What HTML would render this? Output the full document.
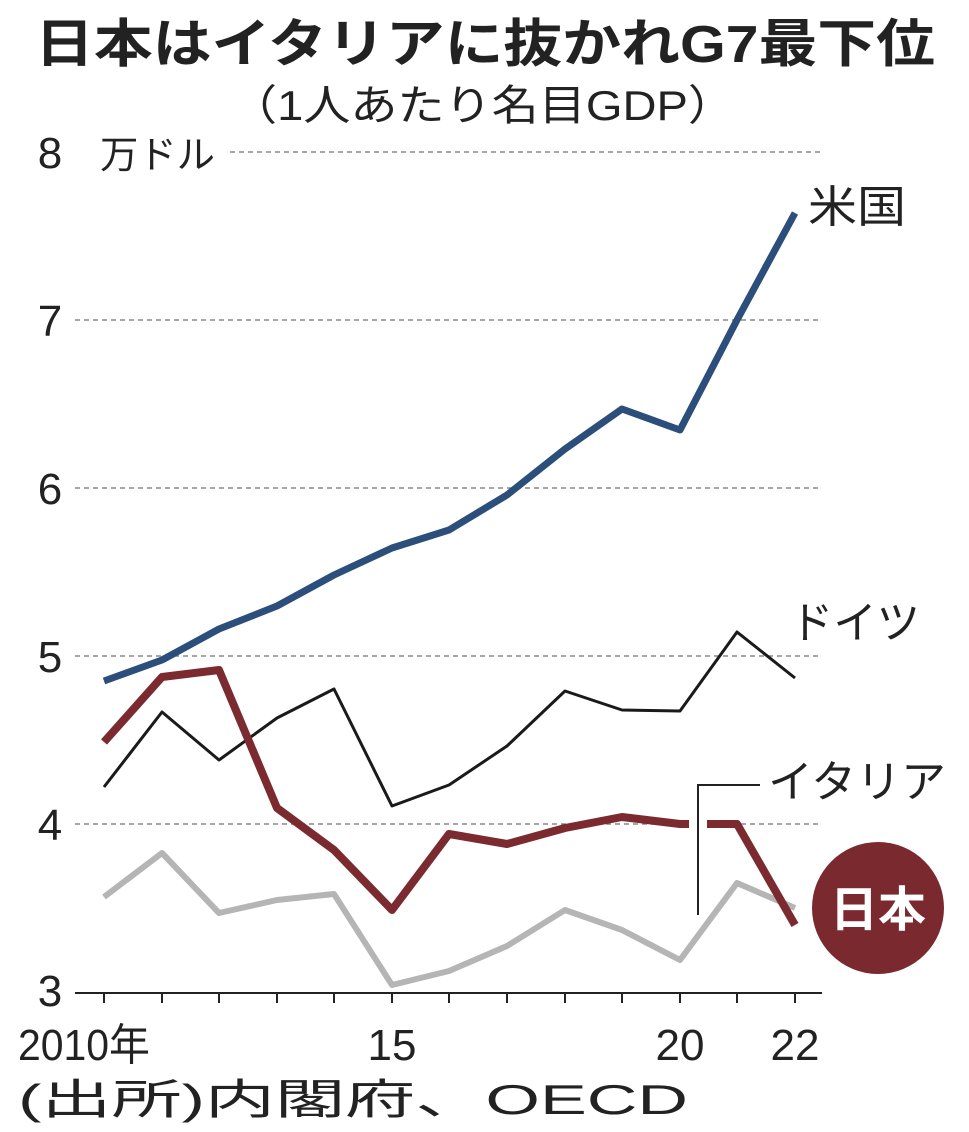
<!DOCTYPE html>
<html><head><meta charset="utf-8"><style>
body{margin:0;background:#fff;}
svg{display:block;}
text{font-family:"Liberation Sans","Noto Sans CJK JP",sans-serif;fill:#222;}
</style></head><body>
<svg width="969" height="1132" viewBox="0 0 969 1132">
<text x="35" y="62" font-size="52" font-weight="bold" textLength="900" lengthAdjust="spacingAndGlyphs">日本はイタリアに抜かれG7最下位</text>
<text x="230" y="120" font-size="42" textLength="505" lengthAdjust="spacingAndGlyphs">（1人あたり名目GDP）</text>
<g stroke="#888" stroke-width="1.5" stroke-dasharray="5,4">
<line x1="230" y1="152" x2="822" y2="152"/>
<line x1="75" y1="320" x2="822" y2="320"/>
<line x1="75" y1="488" x2="822" y2="488"/>
<line x1="75" y1="656" x2="822" y2="656"/>
<line x1="75" y1="824" x2="822" y2="824"/>
</g>
<g font-size="44" text-anchor="middle">
<text x="50" y="168">8</text><text x="50" y="336">7</text><text x="50" y="504">6</text>
<text x="50" y="672">5</text><text x="50" y="840">4</text><text x="50" y="1006">3</text>
</g>
<text x="100" y="168" font-size="38" textLength="115" lengthAdjust="spacingAndGlyphs">万ドル</text>
<line x1="75" y1="993" x2="822" y2="993" stroke="#222" stroke-width="2"/>
<g stroke="#222" stroke-width="2">
<line x1="104" y1="993" x2="104" y2="1003"/><line x1="162" y1="993" x2="162" y2="1003"/>
<line x1="219" y1="993" x2="219" y2="1003"/><line x1="277" y1="993" x2="277" y2="1003"/>
<line x1="334" y1="993" x2="334" y2="1003"/><line x1="392" y1="993" x2="392" y2="1003"/>
<line x1="449" y1="993" x2="449" y2="1003"/><line x1="507" y1="993" x2="507" y2="1003"/>
<line x1="565" y1="993" x2="565" y2="1003"/><line x1="622" y1="993" x2="622" y2="1003"/>
<line x1="680" y1="993" x2="680" y2="1003"/><line x1="737" y1="993" x2="737" y2="1003"/>
<line x1="795" y1="993" x2="795" y2="1003"/>
</g>
<g font-size="44">
<text x="18" y="1060" textLength="132" lengthAdjust="spacingAndGlyphs">2010年</text>
<text x="392" y="1060" text-anchor="middle">15</text>
<text x="680" y="1060" text-anchor="middle">20</text>
<text x="795" y="1060" text-anchor="middle">22</text>
</g>
<text x="18" y="1114" font-size="42" textLength="670" lengthAdjust="spacingAndGlyphs">(出所)内閣府、OECD</text>
<polyline fill="none" stroke="#b5b5b5" stroke-width="6" stroke-linejoin="round" points="104,897 162,853 219,913 277,900 334,894 392,985 449,971 507,946 565,910 622,930 680,960 737,883 795,908"/>
<polyline fill="none" stroke="#1a1a1a" stroke-width="3" stroke-linejoin="round" points="104,787 162,712 219,760 277,718 334,689 392,806 449,785 507,746 565,691 622,710 680,711 737,632 795,678"/>
<polyline fill="none" stroke="#7b2b2f" stroke-width="8" stroke-linejoin="round" points="104,742 162,677 219,670 277,808 334,850 392,910 449,834 507,844 565,828 622,817 680,824 737,824 795,925"/>
<line x1="689" y1="824" x2="707" y2="824" stroke="#fff" stroke-width="12"/>
<polyline fill="none" stroke="#222" stroke-width="2" points="698,915 698,785 760,785"/>
<polyline fill="none" stroke="#2c4e7a" stroke-width="7" stroke-linejoin="round" points="104,681 162,660 219,629 277,606 334,575 392,548 449,530 507,495 565,449 622,409 680,430 737,320 795,213"/>
<text x="808" y="222" font-size="44" textLength="98" lengthAdjust="spacingAndGlyphs">米国</text>
<text x="790" y="638" font-size="44" textLength="130" lengthAdjust="spacingAndGlyphs">ドイツ</text>
<text x="768" y="797" font-size="44" textLength="178" lengthAdjust="spacingAndGlyphs">イタリア</text>
<circle cx="878" cy="908" r="66" fill="#7a2a2e"/>
<text x="878" y="926" text-anchor="middle" font-size="48" font-weight="bold" style="fill:#fff">日本</text>
</svg>
</body></html>
